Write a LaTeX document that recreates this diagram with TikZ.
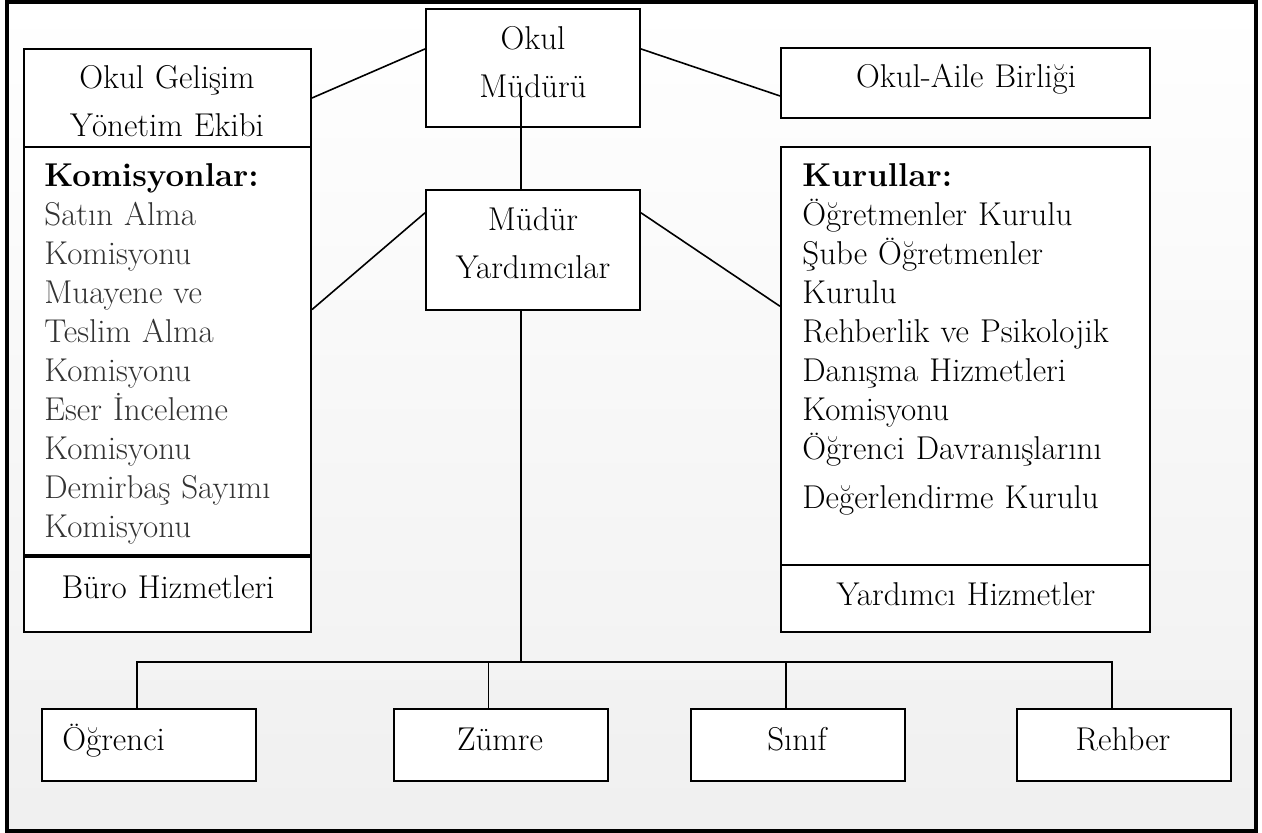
\documentclass[tikz,border=0pt]{standalone}
\usepackage{fontspec}
\setmainfont{Latin Modern Roman}
\usepackage{tikz}
\definecolor{itemgray}{HTML}{333333}

\begin{document}
\begin{tikzpicture}[x=0.5pt,y=-0.5pt,
    box/.style={draw, line width=1pt, fill=white, inner sep=0pt, minimum width=107pt},
    txt/.style={inner sep=0pt, font=\fontsize{16.5}{24}\selectfont},
    mid/.style={txt, text width=#1, align=center, anchor=base},
    lst/.style={inner sep=0pt, anchor=base west, align=left, text width=#1,
      font=\fontsize{16.5}{19.5}\selectfont},
    link/.style={line width=0.8pt},
  ]
  \useasboundingbox (0,0) rectangle (1262,833);
  \shade[top color=white, bottom color=black!6] (7,2) rectangle (1256,831);
  \draw[line width=1.6pt] (7,2) rectangle (1256,831);

  \node[box, minimum height=59pt] (mud) at (533,68) {};
  \node[box, minimum height=60pt] (myard) at (533,250) {};
  \node[box, minimum width=143.5pt, minimum height=49pt] (gel) at (167.5,98) {};
  \node[box, minimum width=143.5pt, minimum height=204pt] (kom) at (167.5,351) {};
  \node[box, minimum width=143.5pt, minimum height=37.5pt] (buro) at (167.5,594.5) {};
  \node[box, minimum width=184.5pt, minimum height=35pt] (aile) at (965.5,83) {};
  \node[box, minimum width=184.5pt, minimum height=209pt] (kur) at (965.5,356) {};
  \node[box, minimum width=184.5pt, minimum height=33.5pt] (yrd) at (965.5,598.5) {};
  \foreach \n/\x in {ogr/149,zum/500.5,sin/798,reh/1124}
    \node[box, minimum height=36pt] (\n) at (\x,745) {};

  \node[mid=100pt] (mudt) at (533,50) {Okul\\Müdürü};
  \node[mid=100pt] (myardt) at (533,231) {Müdür\\Yardımcılar};
  \node[mid=140pt] (gelt) at (167,89) {Okul Gelişim\\Yönetim Ekibi};
  \node[lst=140pt, text=itemgray] (komt) at (44,187) {\textcolor{black}{\bfseries Komisyonlar:}\\
    Satın Alma\\Komisyonu\\Muayene ve\\Teslim Alma\\Komisyonu\\Eser İnceleme\\Komisyonu\\
    Demirbaş Sayımı\\Komisyonu};
  \node[mid=140pt] (burot) at (168,598) {Büro Hizmetleri};
  \node[mid=180pt] (ailet) at (966,88) {Okul-Aile Birliği};
  \node[lst=180pt] (kurt) at (802,187) {\textbf{Kurullar:}\\Öğretmenler Kurulu\\
    Şube Öğretmenler\\Kurulu\\Rehberlik ve Psikolojik\\Danışma Hizmetleri\\Komisyonu\\
    Öğrenci Davranışlarını\\[5pt]Değerlendirme Kurulu};
  \node[mid=180pt] (yrdt) at (966,605) {Yardımcı Hizmetler};
  \node[txt, anchor=base west] (ogrt) at (62,750) {Öğrenci};
  \node[txt, anchor=base] (zumt) at (500,750) {Zümre};
  \node[txt, anchor=base] (sint) at (797,750) {Sınıf};
  \node[txt, anchor=base] (reht) at (1123,750) {Rehber};

  \draw[link] (mud.170) -- (gel.east);
  \draw[link] (mud.10) -- (aile.184);
  \draw[link] (myard.161) -- (kom.16);
  \draw[link] (myard.19) -- (kur.165);
  \draw[link] ([xshift=-6pt,yshift=-14.5pt]mud.center) -- ([xshift=-6pt]myard.north);

  \coordinate (bus) at (521,662);
  \foreach \n in {ogr,zum,sin,reh}
    \coordinate (\n top) at ([xshift=-6pt]\n.north);
  \draw[link] ([xshift=-6pt]myard.south) -- (bus);
  \draw[link] (ogrtop) |- (bus) -| (rehtop);
  \draw[link] (zumtop) -- (zumtop |- bus);
  \draw[link] (sintop) -- (sintop |- bus);
\end{tikzpicture}
\end{document}
